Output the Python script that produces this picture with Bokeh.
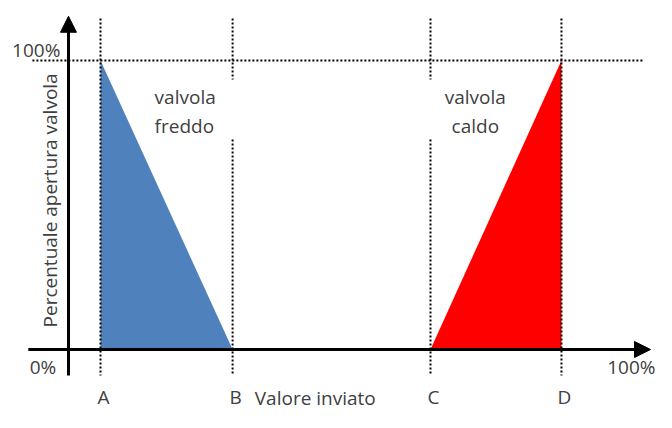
from bokeh.plotting import figure
from bokeh.models import Range1d, Arrow, NormalHead
from bokeh.core.properties import value
from bokeh.embed import file_html
from bokeh.resources import INLINE
import math

# --- data (percent of "Valore inviato" on x, percent valve opening on y) ---
point_labels = ["A", "B", "C", "D"]
point_x = [5.5, 28.2, 62.2, 84.7]
cold_x = [5.5, 5.5, 28.2]
cold_y = [0, 100, 0]
hot_x = [62.2, 84.7, 84.7]
hot_y = [0, 0, 100]
y_tick_labels = ["100%", "0%"]
x_max_label = "100%"
x_title = "Valore inviato"
y_title = "Percentuale apertura valvola"
cold_label = ["valvola", "freddo"]
hot_label = ["valvola", "caldo"]

FONT = value("Open Sans")
TXT = "#404040"
FS = "19px"

p = figure(width=656, height=412, output_backend="svg", toolbar_location=None,
           x_range=Range1d(-11.68, 101.03), y_range=Range1d(-21.80, 120.76),
           x_axis_location=None, y_axis_location=None, min_border=0)
p.grid.visible = False
p.outline_line_color = None

# triangles
p.patch(cold_x, cold_y, fill_color="#4F81BD", line_color=None)
p.patch(hot_x, hot_y, fill_color="#FF0000", line_color=None)

# dotted guide lines
dot = dict(line_color="black", line_width=2, line_dash="2 2")
p.segment(x0=[-6.2], y0=[100], x1=[98.8], y1=[100], **dot)
for i, x in enumerate(point_x):
    if i in (1, 2):
        p.segment(x0=[x, x], y0=[114.5, 72.7], x1=[x, x], y1=[93.4, -9.0], **dot)
    else:
        p.segment(x0=[x], y0=[114.5], x1=[x], y1=[-9.0], **dot)

# axes with arrows
p.add_layout(Arrow(end=NormalHead(size=16, fill_color="black", line_color="black"),
                   x_start=0, y_start=-9.0, x_end=0, y_end=115.3,
                   line_width=3, line_color="black"))
p.add_layout(Arrow(end=NormalHead(size=16, fill_color="black", line_color="black"),
                   x_start=-6.9, y_start=0, x_end=100, y_end=0,
                   line_width=3, line_color="black"))

# tick labels
p.text(x=[-1.4, -2.1], y=[103.5, -6.2], text=y_tick_labels, text_align="right",
       text_baseline="middle", text_font=FONT, text_font_size=FS, text_color=TXT)
p.text(x=[100.86], y=[-6.2], text=[x_max_label], text_align="right",
       text_baseline="middle", text_font=FONT, text_font_size=FS, text_color=TXT)
p.text(x=[x + 0.5 for x in point_x], y=[-16.6] * 4, text=point_labels, text_align="center",
       text_baseline="middle", text_font=FONT, text_font_size=FS, text_color=TXT)

# axis titles
p.text(x=[42.4], y=[-21.45], text=[x_title], text_align="center", text_baseline="bottom",
       text_font=FONT, text_font_size=FS, text_color=TXT)
p.text(x=[-3.1], y=[51.6], text=[y_title], angle=math.pi / 2, text_align="center",
       text_baseline="middle", text_font=FONT, text_font_size=FS, text_color=TXT)

# region labels
p.text(x=[14.8, 14.8], y=[87.2, 77.2], text=cold_label, text_align="left",
       text_baseline="middle", text_font=FONT, text_font_size=FS, text_color=TXT)
p.text(x=[69.9, 69.9], y=[87.2, 77.2], text=hot_label, text_align="center",
       text_baseline="middle", text_font=FONT, text_font_size=FS, text_color=TXT)

open("out.html", "w").write(file_html(p, INLINE))
